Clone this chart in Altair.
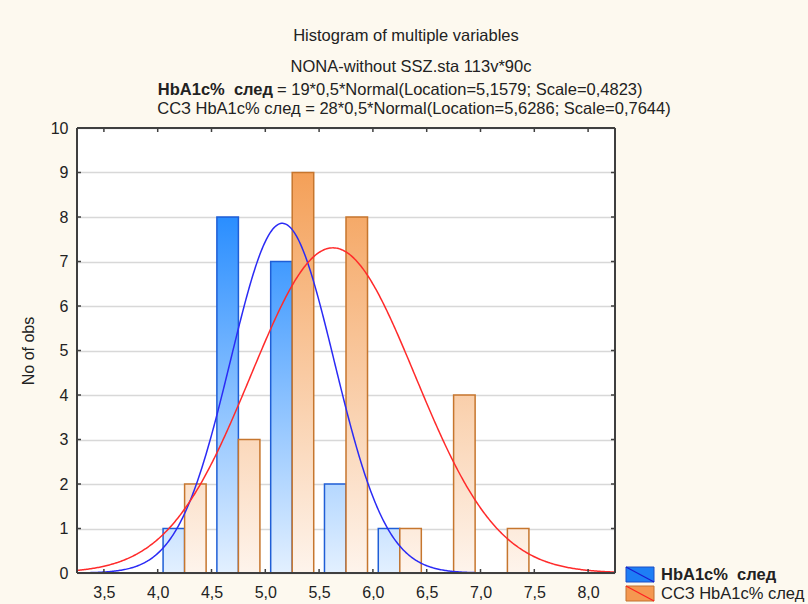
import altair as alt
import pandas as pd

# ---------------- data ----------------
bin_centers = [4.25, 4.75, 5.25, 5.75, 6.25, 6.75, 7.25]
hba1c_counts = [1, 8, 7, 2, 1, 0, 0]
ssz_counts = [2, 3, 9, 8, 1, 4, 1]
series_names = ["HbA1c%\u00a0 след", "ССЗ HbA1c% след"]
fit_count = [19, 28]
fit_location = [5.1579, 5.6286]
fit_scale = [0.4823, 0.7644]
bin_step = 0.5
x_ticks = [3.5, 4.0, 4.5, 5.0, 5.5, 6.0, 6.5, 7.0, 7.5, 8.0]
y_ticks = [0, 1, 2, 3, 4, 5, 6, 7, 8, 9, 10]
x_domain = [3.25, 8.25]
y_domain = [0, 10]
title_lines = ["Histogram of multiple variables", "NONA-without SSZ.sta 113v*90c"]
y_title = "No of obs"


def fit_text(k):
    s = "= {}*{}*Normal(Location={:.4f}; Scale={:.4f})".format(
        fit_count[k], bin_step, fit_location[k], fit_scale[k])
    return s.replace(".", ",")


# ---------------- layout / style ----------------
W, H = 538, 445
FONT = "Liberation Sans"
BAR_W = 0.2
BG = "#fdf9ef"
FRAME = "#3f3f3f"
TFS = 16.5

blue_lo, blue_hi, blue_vmax, blue_stroke = "#e3f0ff", "#2a8eff", 8, "#1f5ed6"
org_lo, org_hi, org_vmax, org_stroke = "#fef4ec", "#f4a058", 9, "#c6762e"
curve_colors = ["#2b2bf5", "#ff2b2b"]

xs = alt.Scale(domain=x_domain, nice=False, zero=False)
ys = alt.Scale(domain=y_domain, nice=False)

X_AX = alt.Axis(values=x_ticks, format=".1f", labelExpr="replace(datum.label, '.', ',')",
                grid=False, domain=False, ticks=False, tickSize=0, labelPadding=11,
                labelFlush=False, labelOverlap=False,
                labelFont=FONT, labelFontSize=16, labelColor="#222222", title=None)
Y_AX = alt.Axis(values=y_ticks, grid=True, gridColor="#d8d8d8", gridWidth=1.5,
                domain=False, ticks=False, tickSize=0, labelPadding=9,
                labelFlush=False, labelOverlap=False,
                labelFont=FONT, labelFontSize=16, labelColor="#222222",
                title=y_title, titleFont=FONT, titleFontSize=16, titleFontWeight="normal",
                titleColor="#222222", titleX=-44, titleY=H / 2, titleAngle=270,
                titleAlign="center", titleBaseline="alphabetic")

one = pd.DataFrame({"k": [0]})
layers = []


def bar_layer(center, count, side, lo, hi, vmax, stroke):
    grad = {"gradient": "linear", "x1": 0, "x2": 0, "y1": 1, "y2": 1 - vmax / count,
            "stops": [{"offset": 0, "color": lo}, {"offset": 1, "color": hi}]}
    df = pd.DataFrame({"c": [center], "n": [count]})
    if side == 0:
        calc = {"x0": f"datum.c - {BAR_W}", "x1": "datum.c"}
    else:
        calc = {"x0": "datum.c", "x1": f"datum.c + {BAR_W}"}
    return (alt.Chart(df).transform_calculate(**calc)
            .mark_bar(fill=grad, stroke=stroke, strokeWidth=1.5)
            .encode(x=alt.X("x0:Q", scale=xs, axis=X_AX), x2="x1:Q",
                    y=alt.Y("n:Q", scale=ys, axis=Y_AX), y2=alt.datum(0)))


for c, n in zip(bin_centers, hba1c_counts):
    if n > 0:
        layers.append(bar_layer(c, n, 0, blue_lo, blue_hi, blue_vmax, blue_stroke))
for c, n in zip(bin_centers, ssz_counts):
    if n > 0:
        layers.append(bar_layer(c, n, 1, org_lo, org_hi, org_vmax, org_stroke))

# fitted normal curves (parameters printed in the chart's title)
for k in range(2):
    expr = f"{fit_count[k]} * {bin_step} * densityNormal(datum.x, {fit_location[k]}, {fit_scale[k]})"
    layers.append(
        alt.Chart(alt.sequence(x_domain[0], x_domain[1] + 0.001, 0.01, as_="x"))
        .transform_calculate(y=expr)
        .mark_line(color=curve_colors[k], strokeWidth=1.5, clip=True)
        .encode(x=alt.X("x:Q", scale=xs, axis=X_AX), y=alt.Y("y:Q", scale=ys, axis=Y_AX))
    )

# inward ticks on all four sides
xt = pd.DataFrame({"v": x_ticks})
yt = pd.DataFrame({"v": y_ticks})
for (a, b) in [(H - 4, H), (0, 4)]:
    layers.append(alt.Chart(xt).mark_rule(color=FRAME, strokeWidth=1.5)
                  .encode(x=alt.X("v:Q", scale=xs, axis=X_AX), y=alt.value(a), y2=alt.value(b)))
for (a, b) in [(0, 4), (W - 4, W)]:
    layers.append(alt.Chart(yt).mark_rule(color=FRAME, strokeWidth=1.5)
                  .encode(y=alt.Y("v:Q", scale=ys, axis=Y_AX), x=alt.value(a), x2=alt.value(b)))

# frame
for enc in [dict(x=alt.value(0), x2=alt.value(W), y=alt.value(0)),
            dict(x=alt.value(0), x2=alt.value(W), y=alt.value(H)),
            dict(x=alt.value(0), y=alt.value(0), y2=alt.value(H)),
            dict(x=alt.value(W), y=alt.value(0), y2=alt.value(H))]:
    layers.append(alt.Chart(one).mark_rule(color=FRAME, strokeWidth=2).encode(**enc))


# title block
def txt(s, x, y, align="center", weight="normal", size=TFS, baseline="alphabetic"):
    return (alt.Chart(one)
            .mark_text(text=s, align=align, baseline=baseline, font=FONT, fontSize=size,
                       fontWeight=weight, color="#222222")
            .encode(x=alt.value(x), y=alt.value(y)))


layers.append(txt(title_lines[0], 329, -87))
layers.append(txt(title_lines[1], 334, -56))
layers.append(txt(series_names[0], 196, -33, align="right", weight="bold"))
layers.append(txt(fit_text(0), 200, -33, align="left"))
layers.append(txt(series_names[1] + " " + fit_text(1), 337, -14))

# legend
leg = [(series_names[0], "#1e7ef5", "#1d4fc4", "#1a1ad0", "bold", 439),
       (series_names[1], "#f59850", "#c07030", "#ff2020", "normal", 458)]
for name, fill, stroke, diag, weight, y0 in leg:
    box = dict(x=alt.value(549), x2=alt.value(577), y=alt.value(y0), y2=alt.value(y0 + 15))
    layers.append(alt.Chart(one).mark_rect(fill=fill, stroke=stroke, strokeWidth=1).encode(**box))
    layers.append(alt.Chart(one).mark_rule(color=diag, strokeWidth=1.2).encode(**box))
    layers.append(txt(name, 584, y0 + 7.5, align="left", weight=weight, size=16.5, baseline="middle"))

chart = (alt.layer(*layers)
         .properties(width=W, height=H,
                     padding={"left": 77, "top": 128, "right": 193, "bottom": 31},
                     autosize=alt.AutoSizeParams(type="none"),
                     background=BG)
         .configure_view(fill="white", stroke="transparent"))

chart.save("out.html", embed_options={"renderer": "svg", "actions": False})
